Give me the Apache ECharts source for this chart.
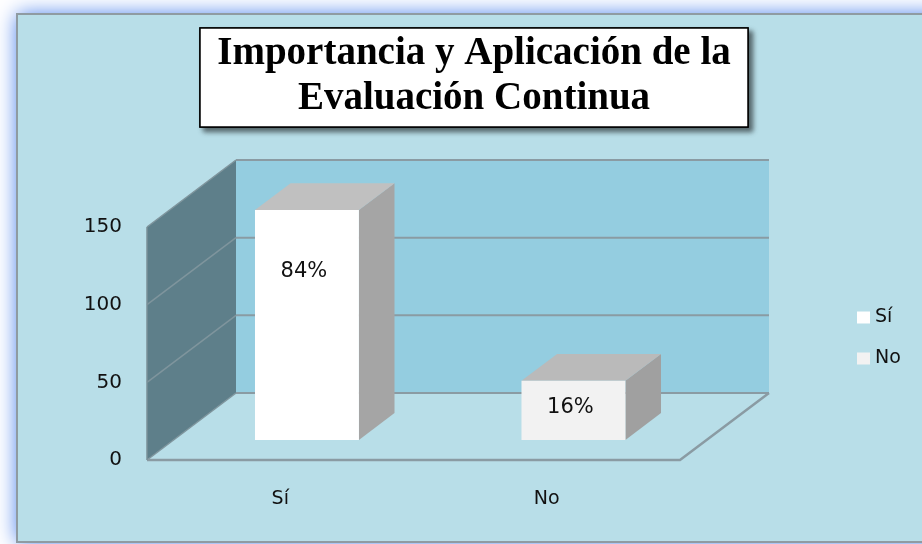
<!DOCTYPE html>
<html><head><meta charset="utf-8">
<script src="https://cdn.jsdelivr.net/npm/echarts@6/dist/echarts.min.js"></script>
<style>html,body{margin:0;padding:0;background:#fff}#c{width:922px;height:544px}</style>
</head><body><div id="c"></div>
<script>
const categories = ['Sí', 'No'];
const values = [148, 38];
const percentLabels = ['84%', '16%'];
const yTicks = [0, 50, 100, 150];
const titleLines = ['Importancia y Aplicación de la', 'Evaluación Continua'];

const DX = 89, DY = -67;
const BAR_D0 = 0.3, BAR_D1 = 0.7;
const BAR_W = 0.39;
const faceColors = [
  {front: '#ffffff', top: '#c0c0c0', side: '#a5a5a5'},
  {front: '#f2f2f2', top: '#bababa', side: '#a0a0a0'}
];
const GRID_COLOR = '#8a9ba3';

const chart = echarts.init(document.getElementById('c'), null, {renderer: 'canvas'});

function renderFrame(params, api) {
  const cs = params.coordSys;
  const x0 = cs.x, x1 = cs.x + cs.width;
  const yBase = api.coord([0, yTicks[0]])[1];
  const yTop = api.coord([0, yTicks[yTicks.length - 1]])[1];
  const ch = [];
  ch.push({type: 'polygon', shape: {points: [[x0 + DX, yTop + DY], [x1 + DX, yTop + DY], [x1 + DX, yBase + DY], [x0 + DX, yBase + DY]]}, style: {fill: '#94cde0'}});
  ch.push({type: 'polygon', shape: {points: [[x0, yTop], [x0 + DX, yTop + DY], [x0 + DX, yBase + DY], [x0, yBase]]}, style: {fill: '#5e7f8a'}});
  ch.push({type: 'polygon', shape: {points: [[x0, yBase], [x1, yBase], [x1 + DX, yBase + DY], [x0 + DX, yBase + DY]]}, style: {fill: '#b8dee8'}});
  yTicks.forEach(function (t) {
    const y = api.coord([0, t])[1];
    ch.push({type: 'polyline', shape: {points: [[x0, y], [x0 + DX, y + DY]]}, style: {stroke: '#7f959d', lineWidth: 1.5, fill: null}});
    ch.push({type: 'polyline', shape: {points: [[x0 + DX, y + DY], [x1 + DX, y + DY]]}, style: {stroke: GRID_COLOR, lineWidth: 2, fill: null}});
  });
  ch.push({type: 'polyline', shape: {points: [[x0, yBase], [x1, yBase], [x1 + DX, yBase + DY]]}, style: {stroke: GRID_COLOR, lineWidth: 2.5, fill: null}});
  ch.push({type: 'line', shape: {x1: x0, y1: yTop, x2: x0, y2: yBase}, style: {stroke: '#7a8f97', lineWidth: 1.5}});
  return {type: 'group', children: ch};
}

function renderBar(params, api) {
  const i = api.value(0), v = api.value(1);
  const c = api.coord([i, v]);
  const b = api.coord([i, 0]);
  const band = api.size([1, 0])[0];
  const w = band * BAR_W;
  const ox = BAR_D0 * DX, oy = BAR_D0 * DY;
  const dx = (BAR_D1 - BAR_D0) * DX, dy = (BAR_D1 - BAR_D0) * DY;
  const xL = c[0] - w / 2 + ox, xR = xL + w;
  const yT = c[1] + oy, yB = b[1] + oy;
  const h = yB - yT;
  const col = faceColors[i];
  return {type: 'group', children: [
    {type: 'polygon', shape: {points: [[xR, yT], [xR + dx, yT + dy], [xR + dx, yB + dy], [xR, yB]]}, style: {fill: col.side}},
    {type: 'polygon', shape: {points: [[xL, yT], [xL + dx, yT + dy], [xR + dx, yT + dy], [xR, yT]]}, style: {fill: col.top}},
    {type: 'rect', shape: {x: xL, y: yT, width: w, height: h}, style: {fill: col.front}},
    {type: 'text', x: xL + w / 2 - 3, y: yT + Math.min(62, h / 2 - 3),
      style: {text: percentLabels[i], fontSize: 21, fontFamily: 'DejaVu Sans', fill: '#111', align: 'center', verticalAlign: 'middle'}}
  ]};
}

const barSeries = categories.map(function (name, i) {
  return {type: 'custom', name: name, renderItem: renderBar, data: [[i, values[i]]],
    itemStyle: {color: faceColors[i].front}, z: 3};
});

chart.setOption({
  backgroundColor: '#ffffff',
  animation: false,
  grid: {left: 147, right: 242, top: 227, bottom: 84},
  xAxis: {type: 'category', data: categories,
    axisLine: {show: false}, axisTick: {show: false}, splitLine: {show: false},
    axisLabel: {margin: 30, fontSize: 19, fontFamily: 'DejaVu Sans', color: '#111'}},
  yAxis: {type: 'value', min: 0, max: 150, interval: 50,
    axisLine: {show: false}, axisTick: {show: false}, splitLine: {show: false},
    axisLabel: {margin: 25, fontSize: 20, fontFamily: 'DejaVu Sans', color: '#111'}},
  legend: {
    orient: 'vertical', left: 852, top: 303, itemWidth: 13, itemHeight: 12, itemGap: 22,
    icon: 'rect',
    data: categories.map(function (n, i) { return {name: n, itemStyle: {color: faceColors[i].front, borderWidth: 0}}; }),
    textStyle: {fontSize: 19, fontFamily: 'DejaVu Sans', color: '#111'},
    selectedMode: false
  },
  graphic: [
    {type: 'rect', z: -11, shape: {x: 17, y: 14, width: 940, height: 528},
      style: {fill: '#b8dee8', shadowBlur: 20, shadowColor: 'rgba(70,125,235,1)'}},
    {type: 'rect', z: -10, shape: {x: 17, y: 14, width: 940, height: 528},
      style: {fill: '#b8dee8', stroke: '#8f9ba2', lineWidth: 2}},
    {type: 'rect', z: 10, shape: {x: 200, y: 28, width: 548, height: 99},
      style: {fill: '#ffffff', stroke: '#000000', lineWidth: 1.5, shadowBlur: 5, shadowOffsetX: 4, shadowOffsetY: 4, shadowColor: 'rgba(0,0,0,0.55)'}},
    {type: 'rect', z: 11, shape: {x: 200, y: 28, width: 548, height: 99},
      style: {fill: '#ffffff', stroke: '#000000', lineWidth: 1.5}},
    {type: 'text', z: 12, x: 474, y: 54,
      style: {text: titleLines[0], fontSize: 39, fontWeight: 'bold', fontFamily: 'Liberation Serif', fill: '#000', align: 'center', verticalAlign: 'middle'}},
    {type: 'text', z: 12, x: 474, y: 99,
      style: {text: titleLines[1], fontSize: 39, fontWeight: 'bold', fontFamily: 'Liberation Serif', fill: '#000', align: 'center', verticalAlign: 'middle'}}
  ],
  series: [{type: 'custom', name: 'frame', renderItem: renderFrame, data: [[0, 0]], z: 1, silent: true}].concat(barSeries)
});
</script></body></html>
